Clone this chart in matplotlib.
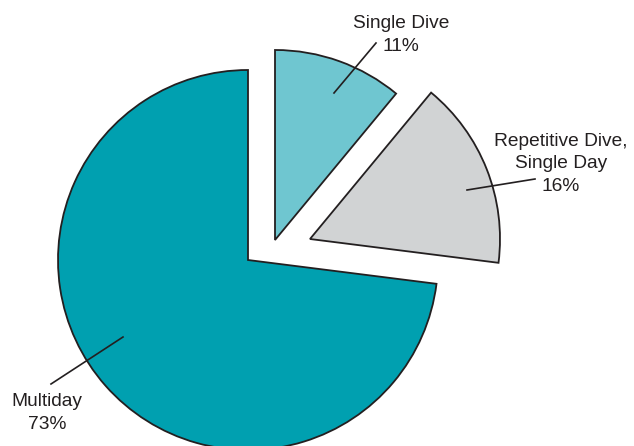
import matplotlib.pyplot as plt

labels = ["Multiday", "Repetitive Dive,\nSingle Day", "Single Dive"]
shares = [73, 16, 11]
colors = ["#00a0b0", "#d1d3d4", "#6fc6d0"]

W, H = 634, 446
plt.rcParams["font.family"] = ["Liberation Sans", "DejaVu Sans"]
ink = "#231f20"

fig = plt.figure(figsize=(W / 100, H / 100), dpi=100)
ax = fig.add_axes([0, 0, 1, 1])

center = (248, H - 260)
wedges, _ = ax.pie(shares, colors=colors, startangle=90, counterclock=True,
                   radius=190, center=center, frame=True,
                   wedgeprops=dict(edgecolor=ink, linewidth=1.3))
ax.set_xlim(0, W)
ax.set_ylim(0, H)
ax.set_aspect("equal")
ax.axis("off")

# pull-out offsets of the slices (pixels)
shifts = [(0, 0), (62, 21), (27, 20)]
for w, (dx, dy) in zip(wedges, shifts):
    w.set_center((center[0] + dx, center[1] + dy))

# label text positions and leader lines (pixel coords, y down)
text_pos = [(47, 413), (561, 164), (401, 35)]
leaders = [((123, 337), (51, 384)), ((467, 190), (535, 179)), ((334, 93), (376, 43))]

for lab, pct, (tx, ty), (p0, p1) in zip(labels, shares, text_pos, leaders):
    ax.text(tx, H - ty, f"{lab}\n{pct}%", ha="center", va="center",
            fontsize=13.8, color=ink, linespacing=1.42)
    ax.plot([p0[0], p1[0]], [H - p0[1], H - p1[1]], color=ink, lw=1.2)

fig.savefig("out.png", dpi=100)
